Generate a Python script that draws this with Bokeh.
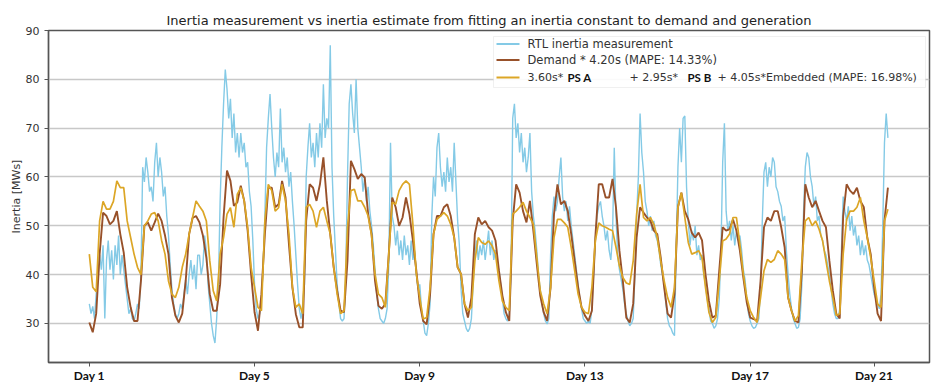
from bokeh.plotting import figure
from bokeh.models import Range1d, FixedTicker, BoxAnnotation, Label
from bokeh.embed import file_html
from bokeh.resources import INLINE

# ---------------- data ----------------
# Demand * 4.20s, 2-hourly samples (12 per day)
demand = [
    30.2, 28.2, 32, 44.2, 52.7, 52, 50.3, 51, 53, 48.3, 44.5, 37.4,
    33.3, 30.5, 30.5, 38.7, 50, 50.7, 49, 50.7, 52.5, 51, 48, 44.2,
    35.3, 31.6, 30.2, 32, 38.7, 48.3, 51.6, 52, 50.7, 48, 43.5, 36,
    32.6, 32.6, 38, 51.7, 61.3, 59.2, 54.1, 54.8, 58.2, 55.1, 49, 40.1,
    32.3, 28.5, 36, 48.3, 57.8, 57.8, 53.8, 54.4, 59.2, 55.8, 46.2, 37.4,
    31.9, 29.2, 29.2, 51, 58.5, 57.8, 55.1, 58.5, 64, 55.1, 48.3, 41.5,
    36.7, 32.6, 32.3, 42.8, 63.3, 61.6, 59.6, 60.6, 59.9, 52.4, 48.3, 38.7,
    33.6, 33, 34, 44.2, 55.8, 53.8, 50, 51.7, 55.8, 52.4, 47, 40.8,
    34, 30.5, 29.8, 36, 48.3, 52, 52, 53.8, 54.4, 52, 47.6, 41.5,
    40.1, 34, 31.2, 35.3, 48.3, 51.7, 50.3, 51, 49.7, 49, 47, 40.8,
    35.7, 32.3, 30.5, 51, 58.5, 56.8, 53, 50.7, 55.1, 49, 42.2, 35.7,
    32.3, 30.5, 37.4, 52.4, 58.5, 54.4, 55.1, 53, 48.3, 42.8, 37.4, 33.3,
    31.6, 30.5, 32.6, 47.6, 58.5, 58.5, 55.8, 55.8, 59.6, 53.8, 44.9, 38.7,
    31.2, 30.2, 34, 47.6, 53.8, 52.7, 51.7, 51, 49, 48.3, 43.5, 37.4,
    32, 31.2, 36, 53.8, 56.8, 53, 51.3, 48.6, 47.6, 48.6, 47, 40.1,
    34.6, 31.2, 31.6, 40.8, 49.7, 49, 49.3, 51.3, 49, 44.9, 39.4, 34.3,
    31.2, 30.9, 30.5, 38.7, 49.7, 51.7, 51, 53, 53, 49.7, 45.6, 35.3,
    32.6, 30.5, 30.2, 40.8, 58.5, 55.8, 53.8, 55.1, 53, 51, 49.7, 42.8,
    36.7, 32, 31, 52, 58.5, 57.2, 56.5, 57.8, 55.1, 53.8, 47.6, 44.2,
    37.4, 32, 30.5, 51, 57.8,
]

# 3.60s*PS A + 2.95s*PS B + 4.05s*Embedded, 2-hourly samples
generation = [
    44.2, 37.4, 36.5, 51, 55, 53.4, 53.4, 55, 59.2, 57.8, 57.8, 51,
    47.6, 44.2, 41.5, 40, 50, 51, 52.4, 52.7, 51, 47, 44.2, 38.7,
    36, 35.3, 37.4, 41.5, 44.2, 48.3, 51.7, 55.1, 54, 53, 51, 42.8,
    36.7, 34.6, 44.2, 47.6, 52.4, 53.7, 49.7, 56.5, 57.8, 55.1, 49.7, 41.5,
    37.4, 33.3, 32.6, 51, 58.5, 57.2, 53, 53.7, 58.5, 55.1, 48.3, 37.4,
    33.3, 34, 32, 53.8, 54.4, 53, 49.7, 53, 53.8, 51, 48.3, 41.5,
    36, 32, 32.6, 49.7, 57.2, 57.5, 55.1, 55.1, 53.8, 52, 48, 40.1,
    36, 35.3, 33.3, 44.2, 54.8, 54.4, 57.2, 58.5, 59.2, 58.5, 50.3, 40.1,
    35.3, 30.9, 31.2, 37.4, 48.3, 51.3, 52, 52.7, 52, 50.3, 47.6, 41.5,
    40.1, 34, 32.6, 33.3, 42.8, 47.6, 46.6, 46.2, 46.9, 45.9, 44.2, 38.7,
    34.6, 33.3, 32.6, 52.4, 53, 53.8, 54.8, 53, 51.7, 50.3, 43.5, 36.7,
    34, 32, 37.4, 47.6, 51.3, 51.3, 50.6, 49.7, 45.6, 40.8, 36, 33.3,
    32.3, 32, 37.4, 46.9, 50.6, 50, 49.7, 49.3, 49, 45.6, 41.8, 39.4,
    38.3, 38, 42.8, 52.4, 58.5, 51.7, 51, 51.7, 50.3, 47.6, 42.8, 38.7,
    35.3, 33.3, 37.4, 53.8, 56.8, 51.7, 46.6, 44.2, 44.5, 44.9, 43.5, 37.4,
    32.3, 30.2, 31.2, 38.7, 46.9, 47.3, 48.3, 51.7, 51.7, 46.2, 40.1, 35.3,
    32.6, 31.2, 30.2, 35.3, 40.8, 43.1, 42.5, 43.1, 44.9, 44.2, 43.1, 35.3,
    32.6, 30.5, 31.6, 42.8, 51, 51.7, 50, 51, 49.3, 47, 42.8, 38.7,
    35.3, 31.6, 32, 44.2, 51.3, 53, 53, 53.8, 55.8, 51, 47.6, 43.5,
    38.7, 34, 33.3, 51, 53.4,
]

# RTL inertia measurement, hourly samples (24 per day)
rtl = [
    34, 32, 33.5, 31, 36, 39, 44, 41, 46, 31, 43, 47, 41, 45, 39, 46, 42, 48, 40, 44, 41, 38, 35, 32,
    33, 31, 30.5, 32, 34, 33, 40, 62, 59, 64, 61, 57, 58, 55, 63, 67, 60, 64, 61, 56, 58, 52, 48, 42,
    37, 34, 32, 31, 32, 34, 33, 36, 39, 36, 40, 43, 39, 42, 37, 44, 44, 40, 42, 48, 45, 38, 34, 30,
    27.5, 26, 31, 38, 55, 66, 75, 82, 78, 72, 76, 68, 73, 65, 69, 64, 69, 65, 67, 62, 63, 57, 54, 47,
    38, 33, 31, 32, 35, 42, 52, 66, 72, 77, 70, 64, 60, 65, 62, 74, 63, 66, 61, 64, 58, 61, 55, 50,
    44, 38, 33, 31, 34, 38, 60, 66, 71, 64, 67, 62, 69, 64, 71, 66, 79, 68, 72, 70, 87, 62, 52, 45,
    38, 34, 31, 30.5, 31, 40, 60, 75, 79, 73, 69, 80, 70, 66, 62, 57, 60, 55, 58, 53, 50, 46, 41, 36,
    33, 31, 30.5, 30, 31, 33, 42, 67, 52, 50, 46, 49, 44, 47, 43, 48, 44, 46, 42, 47, 43, 45, 40, 37,
    38, 33, 30.5, 28, 27.5, 30, 34, 52, 60, 56, 66, 69, 62, 58, 61, 57, 64, 59, 62, 57, 67, 59, 51, 46,
    37, 32, 30.5, 29, 28.3, 29, 31, 38, 44, 47, 43, 46, 44, 47, 43, 46, 49, 44, 47, 43, 45, 42, 41, 38,
    35, 32, 31, 30.5, 32, 40, 72, 75, 68, 71, 65, 69, 63, 66, 61, 64, 69, 57, 52, 49, 45, 40, 37, 34,
    32, 30.5, 29.9, 31, 44, 52, 56, 53, 55, 60, 64, 56, 53, 55, 51, 54, 50, 47, 44, 41, 38, 35, 33, 31,
    30.5, 30, 30.5, 30, 33, 40, 47, 52, 54, 55, 52, 50, 47, 49, 45, 43, 48, 66, 52, 44, 41, 39, 37, 34,
    32, 30.5, 29.5, 30, 31, 40, 52, 60, 73, 65, 61, 55, 53, 50, 52, 49, 51, 48, 47, 45, 42, 40, 38, 34,
    31, 29.5, 29, 28, 27.5, 45, 62, 70, 63, 72, 72.5, 58, 51, 46, 49, 47, 50, 44, 46, 43, 44, 40, 38, 35,
    33, 30.5, 30, 29, 29.5, 31, 35, 45, 63, 71, 53, 49, 51, 47, 50, 46, 49, 47, 48, 45, 41, 39, 35, 32,
    30.5, 29.5, 29, 29.2, 30, 31, 37, 51, 61, 63, 58, 62, 60, 64, 63, 58, 57, 55, 54, 51, 52, 45, 40, 36,
    33, 31, 30, 29, 29.2, 31, 38, 53, 62, 65, 64, 60, 58, 54, 56, 51, 52, 48, 47, 45, 44, 42, 40, 37,
    34, 32, 31, 31, 33, 45, 56, 53, 51, 54, 49, 52, 48, 50, 46, 48, 44, 47, 44, 46, 43, 42, 40, 38,
    36, 35, 34, 33, 36, 50, 67, 73, 68,
]

tick_pos = [0, 4, 8, 12, 16, 19]
tick_labels = ["Day 1", "Day 5", "Day 9", "Day 13", "Day 17", "Day 21"]
y_ticks = [30, 40, 50, 60, 70, 80, 90]

# time axes (days since start)
t_half = [i / 12 for i in range(len(demand))]
t_rtl = [j / 24 for j in range(len(rtl))]

BLUE = "#84CAE6"
BROWN = "#98512A"
GOLD = "#DCA626"

X0, X1 = -0.988, 20.34
Y0, Y1 = 22, 90

p = figure(width=940, height=392, x_range=Range1d(X0, X1), y_range=Range1d(Y0, Y1),
           output_backend="svg", toolbar_location=None,
           min_border_left=48, min_border_right=11, min_border_top=30, min_border_bottom=30,
           background_fill_color="white", border_fill_color="white")

p.title.text = ("Inertia measurement vs inertia estimate from fitting an inertia constant "
                "to demand and generation")
p.title.align = "center"
p.title.text_font = "DejaVu Sans"
p.title.text_font_size = "13px"
p.title.text_font_style = "normal"
p.title.text_color = "#222222"
p.title.standoff = 6

p.line(t_rtl, rtl, line_color=BLUE, line_width=1.4)
p.line(t_half, demand, line_color=BROWN, line_width=1.9)
p.line(t_half, generation, line_color=GOLD, line_width=1.7)

# axes
p.xaxis.ticker = FixedTicker(ticks=tick_pos)
p.xaxis.major_label_overrides = {k: v for k, v in zip(tick_pos, tick_labels)}
p.xaxis.major_label_text_font = "Lato"
p.xaxis.major_label_text_font_style = "bold"
p.xaxis.major_label_text_font_size = "12px"
p.xaxis.major_label_text_color = "#111111"
p.yaxis.ticker = FixedTicker(ticks=y_ticks)
p.yaxis.major_label_text_font = "DejaVu Sans"
p.yaxis.major_label_text_font_size = "11px"
p.yaxis.major_label_text_color = "#333333"
p.yaxis.axis_label = "Inertia [MWs]"
p.yaxis.axis_label_text_font = "DejaVu Sans"
p.yaxis.axis_label_text_font_size = "11px"
p.yaxis.axis_label_text_font_style = "normal"
p.yaxis.axis_label_text_color = "#333333"
p.yaxis.axis_label_standoff = 0
for ax in (p.xaxis, p.yaxis):
    ax.axis_line_color = "#555555"
    ax.axis_line_width = 1.3
    ax.major_tick_line_color = "#555555"
    ax.major_tick_out = 4
    ax.major_tick_in = 0
    ax.minor_tick_line_color = None
p.yaxis.major_label_standoff = 5
p.xaxis.major_label_standoff = 1

p.xgrid.visible = False
p.ygrid.grid_line_color = "#c8c8c8"
p.ygrid.grid_line_width = 1.5
p.outline_line_color = "#555555"
p.outline_line_width = 1.5

# ---------------- custom legend (positions in reference pixels) ----------------
FL, FR, FT, FB = 48, 929, 30, 362


def gx(px):
    return X0 + (px - FL) / (FR - FL) * (X1 - X0)


def gy(py):
    return Y1 - (py - FT) / (FB - FT) * (Y1 - Y0)


p.add_layout(BoxAnnotation(left=gx(493), right=gx(925), top=gy(36), bottom=gy(87),
                           fill_color="white", fill_alpha=0.9,
                           line_color="#cccccc", line_width=1))

rows = [43.5, 59.5, 77]
for yy, col in zip(rows, [BLUE, BROWN, GOLD]):
    p.line([gx(496), gx(519)], [gy(yy), gy(yy)], line_color=col, line_width=2, level="overlay")


def lab(txt, px, py, bold=False, size="11.5px"):
    p.add_layout(Label(x=gx(px), y=gy(py), text=txt,
                       text_font="Lato" if bold else "DejaVu Sans",
                       text_font_style="bold" if bold else "normal",
                       text_font_size=size, text_color="#111111" if bold else "#333333",
                       text_align="left", text_baseline="middle"))


lab("RTL inertia measurement", 527, rows[0])
lab("Demand * 4.20s (MAPE: 14.33%)", 527, rows[1])
lab("3.60s*", 527, rows[2], size="11px")
lab("PS A", 567, rows[2], bold=True)
lab("+ 2.95s*", 629, rows[2], size="11px")
lab("PS B", 687, rows[2], bold=True)
lab("+ 4.05s*Embedded (MAPE: 16.98%)", 717, rows[2], size="11px")

open("out.html", "w").write(file_html(p, INLINE))
